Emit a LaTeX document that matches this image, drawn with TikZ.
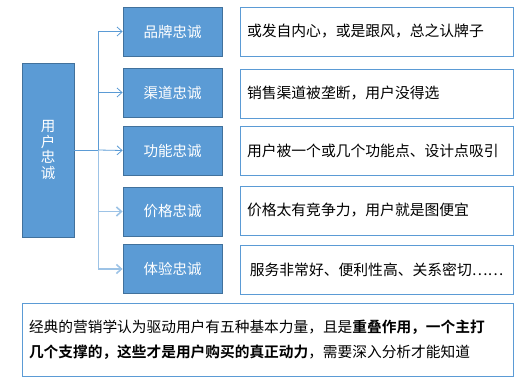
\documentclass[tikz,border=0pt]{standalone}
\usepackage{fontspec}
\setmainfont{Noto Sans CJK SC}[BoldFont={Noto Sans CJK SC Bold}]
\usepackage{xcolor}
\usetikzlibrary{arrows.meta, positioning}
\definecolor{midblue}{HTML}{5B9BD5}
\definecolor{edgeblue}{HTML}{41719C}
\definecolor{paleblue}{HTML}{9DC3E6}
\tikzset{
  root/.style={rectangle, draw=edgeblue, fill=midblue, text=white,
    minimum width=52pt, minimum height=174pt, inner sep=0pt, align=center,
    font=\fontsize{14.5}{15.5}\selectfont},
  loyal/.style={rectangle, draw=edgeblue, fill=midblue, text=white,
    minimum width=99pt, minimum height=49pt, inner sep=0pt,
    font=\fontsize{14.5}{17}\selectfont},
  desc/.style={rectangle, draw=midblue, fill=white, text width=259pt,
    inner xsep=7pt, inner ysep=0pt, minimum height=49pt, align=left,
    font=\fontsize{14.8}{17}\selectfont},
  note/.style={rectangle, draw=midblue, fill=white, text width=477pt,
    inner xsep=7pt, inner ysep=0pt, minimum height=73pt, align=left,
    font=\fontsize{14.7}{25}\selectfont},
  arrowline/.style={-{Straight Barb[length=5pt,width=9pt]}, midblue, line width=0.8pt},
  softline/.style={-{Straight Barb[length=5pt,width=9pt]}, paleblue, line width=1.6pt}
}

\begin{document}
\begin{tikzpicture}[x=1pt, y=-1pt, line width=0.8pt]
  \useasboundingbox (0,0) rectangle (522,388);
  \node[root] (user) at (48,150) {用\\户\\忠\\诚};
  \node[loyal] (brand) at (172.5,31.5) {品牌忠诚};
  \node[loyal] (channel) at (172.5,92.5) {渠道忠诚};
  \node[loyal] (func) at (172.5,150.5) {功能忠诚};
  \node[loyal] (price) at (172.5,211.5) {价格忠诚};
  \node[loyal] (exper) at (172.5,269) {体验忠诚};
  \node[desc] (brandtxt) at (376.5,31.5) {或发自内心，或是跟风，总之认牌子};
  \node[desc] (channeltxt) at (376.5,93.5) {销售渠道被垄断，用户没得选};
  \node[desc] (functxt) at (376.5,150.5) {用户被一个或几个功能点、设计点吸引};
  \node[desc] (pricetxt) at (376.5,210.5) {价格太有竞争力，用户就是图便宜};
  \node[desc, align=center] (expertxt) at (376.5,269.5) {服务非常好、便利性高、关系密切……};
  \node[note] (summary) at (267.5,339.5) {经典的营销学认为驱动用户有五种基本力量，且是\textbf{重叠作用，一个主打}\\
    \textbf{几个支撑的，这些才是用户购买的真正动力}，需要深入分析才能知道};

  \coordinate (fork) at ([xshift=24pt]user.east);
  \draw[midblue] (user.east) -- (fork);
  \draw[arrowline] (fork) |- (brand.west);
  \draw[arrowline] (fork) |- (channel.west);
  \draw[arrowline] (fork) -- (func.west);
  \draw[softline] (fork) |- (price.west);
  \draw[softline] (fork) |- (exper.west);
\end{tikzpicture}
\end{document}
